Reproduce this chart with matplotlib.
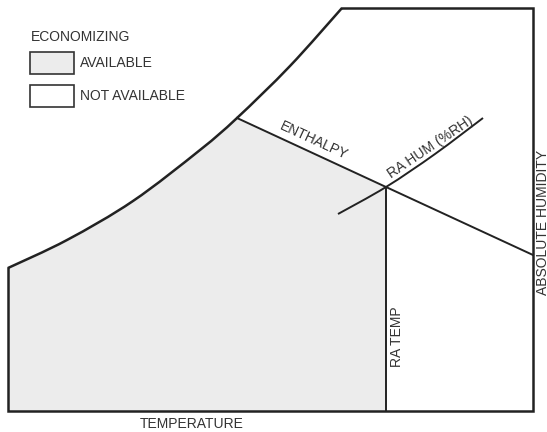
import matplotlib.pyplot as plt
from matplotlib.patches import Rectangle, PathPatch
from matplotlib.path import Path

plt.rcParams['font.family'] = ['Liberation Sans', 'DejaVu Sans']

# schematic coordinates (temperature -> right, humidity -> up; y measured downward)
sat_x = [8, 67, 133, 200, 237, 290, 342]
sat_y = [268, 240, 201, 150, 118, 66, 8]

enth_x = [237, 386, 533]
enth_y = [118, 187, 255]

rh_x = [338, 386, 435, 483]
rh_y = [214, 187, 154, 118]

ra_temp_x = 386
x_min, x_max = 8, 533
y_bottom, y_top = 411, 8

line_col = '#222222'
fill_col = '#ececec'
text_col = '#333333'


def smooth_path(xs, ys):
    # Catmull-Rom spline drawn as cubic Bezier segments through the points
    pts = list(zip(xs, ys))
    verts = [pts[0]]
    codes = [Path.MOVETO]
    for i in range(len(pts) - 1):
        p0 = pts[i - 1] if i > 0 else pts[i]
        p1, p2 = pts[i], pts[i + 1]
        p3 = pts[i + 2] if i + 2 < len(pts) else pts[i + 1]
        c1 = (p1[0] + (p2[0] - p0[0]) / 6, p1[1] + (p2[1] - p0[1]) / 6)
        c2 = (p2[0] - (p3[0] - p1[0]) / 6, p2[1] - (p3[1] - p1[1]) / 6)
        verts += [c1, c2, p2]
        codes += [Path.CURVE4] * 3
    return verts, codes


fig = plt.figure(figsize=(5.47, 4.32), dpi=100)
ax = fig.add_axes([0, 0, 1, 1])
ax.set_xlim(0, 547)
ax.set_ylim(432, 0)
ax.axis('off')

# economizing available region (use the full curve path, cut at the enthalpy point)
v_all, c_all = smooth_path(sat_x, sat_y)
n_seg = sat_x.index(enth_x[0])
v = [(x_min, y_bottom)] + v_all[:1 + 3 * n_seg] + \
    [(enth_x[1], enth_y[1]), (ra_temp_x, y_bottom), (x_min, y_bottom)]
c = [Path.MOVETO, Path.LINETO] + c_all[1:1 + 3 * n_seg] + \
    [Path.LINETO, Path.LINETO, Path.CLOSEPOLY]
ax.add_patch(PathPatch(Path(v, c), facecolor=fill_col, edgecolor='none'))

# outline: saturation curve + box
ax.add_patch(PathPatch(Path(v_all, c_all), facecolor='none', edgecolor=line_col, lw=1.8))
ax.plot([sat_x[-1], x_max, x_max, x_min, x_min],
        [y_top, y_top, y_bottom, y_bottom, sat_y[0]],
        color=line_col, lw=1.8, solid_joinstyle='miter')

ax.plot(enth_x, enth_y, color=line_col, lw=1.4)
v, c = smooth_path(rh_x, rh_y)
ax.add_patch(PathPatch(Path(v, c), facecolor='none', edgecolor=line_col, lw=1.4))
ax.plot([ra_temp_x, ra_temp_x], [enth_y[1], y_bottom], color=line_col, lw=1.4)

# legend
ax.text(31, 37, 'ECONOMIZING', fontsize=10, va='center', ha='left', color=text_col)
ax.add_patch(Rectangle((30, 52), 44, 22, facecolor=fill_col, edgecolor=text_col, lw=1.2))
ax.text(80, 63, 'AVAILABLE', fontsize=10, va='center', ha='left', color=text_col)
ax.add_patch(Rectangle((30, 85), 44, 22, facecolor='white', edgecolor=text_col, lw=1.2))
ax.text(80, 96, 'NOT AVAILABLE', fontsize=10, va='center', ha='left', color=text_col)

# labels
ax.text(192, 424, 'TEMPERATURE', fontsize=10, ha='center', va='center', color=text_col)
ax.text(397, 337, 'RA TEMP', fontsize=10, ha='center', va='center', rotation=90, color=text_col)
ax.text(543, 222, 'ABSOLUTE HUMIDITY', fontsize=10, ha='center', va='center', rotation=90,
        color=text_col)
ax.text(314, 141, 'ENTHALPY', fontsize=10, ha='center', va='center', rotation=-24.8,
        rotation_mode='anchor', color=text_col)
ax.text(430, 147, 'RA HUM (%RH)', fontsize=10, ha='center', va='center', rotation=34,
        rotation_mode='anchor', color=text_col)

fig.savefig('out.png', dpi=100)
